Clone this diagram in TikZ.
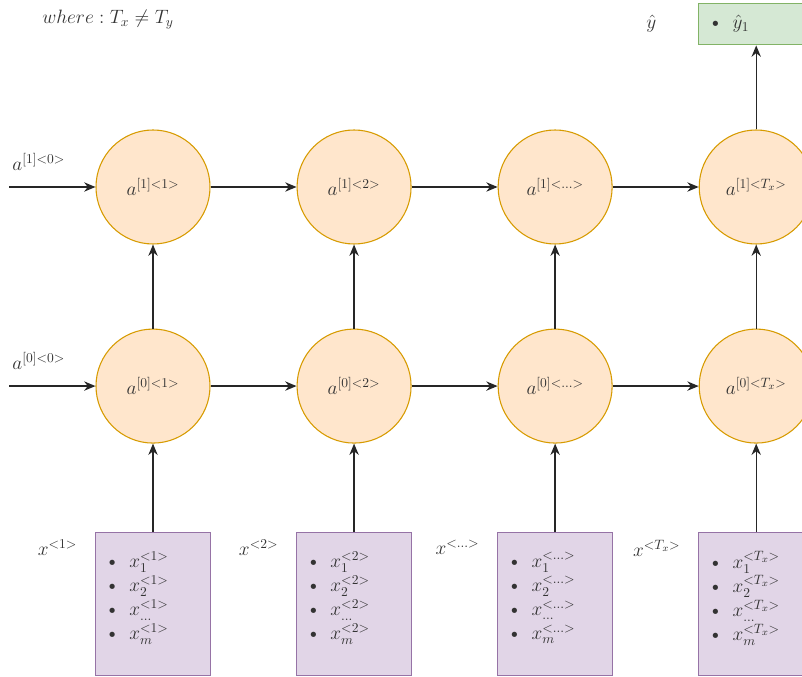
\RequirePackage{fix-cm}
\documentclass[tikz,border=0pt]{standalone}
\usepackage{amssymb}
\usepackage{amsmath}
\usepackage{tikz}
\usetikzlibrary{positioning,arrows.meta}
\usepackage{xcolor}

\definecolor{cellfill}{HTML}{FFE6CC}
\definecolor{celldraw}{HTML}{D79B00}
\definecolor{inpfill}{HTML}{E1D5E7}
\definecolor{inpdraw}{HTML}{9673A6}
\definecolor{outfill}{HTML}{D5E8D4}
\definecolor{outdraw}{HTML}{82B366}
\definecolor{txtgray}{HTML}{333333}

% list of the features of one input step
\newcommand{\featlist}[1]{%
\textbullet\enspace$x_1^{#1}$\\
\textbullet\enspace$x_2^{#1}$\\
\textbullet\enspace$x_{\ldots}^{#1}$\\
\textbullet\enspace$x_m^{#1}$\\[-6pt]\mbox{}}

\begin{document}
\begin{tikzpicture}[
% styles
font=\fontsize{14.5}{18}\selectfont, text=txtgray,
cellnode/.style={circle, draw=celldraw, fill=cellfill, line width=0.8pt, minimum size=85.5pt, inner sep=0pt},
inputbox/.style={rectangle, draw=inpdraw, fill=inpfill, line width=1.1pt, minimum width=86.25pt, minimum height=107.25pt, text width=72pt, inner xsep=7pt, align=left},
outbox/.style={rectangle, draw=outdraw, fill=outfill, line width=1.1pt, minimum width=86.25pt, minimum height=31pt, text width=72pt, inner xsep=7pt, align=left},
lbl/.style={inner sep=1pt},
conn/.style={line width=1pt, draw=black!85, -{Stealth[length=8.5pt,width=7pt]}},
node distance=63pt and 64.5pt,
]
\path[use as bounding box, fill=white] (-114.75pt,-367.5pt) rectangle (486.75pt,140.25pt);

% Nodes: layer 1
\node[cellnode] (a11)                  {$a^{[1]<1>}$};
\node[cellnode] (a12) [right=of a11]   {$a^{[1]<2>}$};
\node[cellnode] (a13) [right=of a12]   {$a^{[1]<\ldots>}$};
\node[cellnode] (a1T) [right=of a13]   {$a^{[1]<T_x>}$};
% Nodes: layer 0
\node[cellnode] (a01) [below=of a11]   {$a^{[0]<1>}$};
\node[cellnode] (a02) [right=of a01]   {$a^{[0]<2>}$};
\node[cellnode] (a03) [right=of a02]   {$a^{[0]<\ldots>}$};
\node[cellnode] (a0T) [right=of a03]   {$a^{[0]<T_x>}$};
% Nodes: inputs
\node[inputbox] (x1) [below=66pt of a01] {\featlist{<1>}};
\node[inputbox] (x2) [below=66pt of a02] {\featlist{<2>}};
\node[inputbox] (x3) [below=66pt of a03] {\featlist{<\ldots>}};
\node[inputbox] (xT) [below=66pt of a0T] {\featlist{<T_x>}};
% Node: output
\node[outbox] (gy) [above=63pt of a1T] {\textbullet\enspace$\hat{y}_1$};

% Labels
\node[lbl] (note) at (-33.75pt,125.25pt) {$where : T_x \neq T_y$};
\node[lbl] (lgy) [left=30pt of gy] {$\hat{y}$};
\node[lbl, anchor=north east] (lx1) at ([xshift=-12pt,yshift=-5pt]x1.north west) {$x^{<1>}$};
\node[lbl, anchor=north east] (lx2) at ([xshift=-12pt,yshift=-5pt]x2.north west) {$x^{<2>}$};
\node[lbl, anchor=north east] (lx3) at ([xshift=-12pt,yshift=-5pt]x3.north west) {$x^{<\ldots>}$};
\node[lbl, anchor=north east] (lxT) at ([xshift=-12pt,yshift=-5pt]xT.north west) {$x^{<T_x>}$};

% free ends of the initial states
\coordinate[left=64.5pt of a11.west] (in1);
\coordinate[left=64.5pt of a01.west] (in0);
\node[lbl, anchor=south west] (la1) at ([xshift=1pt,yshift=11pt]in1) {$a^{[1]<0>}$};
\node[lbl, anchor=south west] (la0) at ([xshift=1pt,yshift=11pt]in0) {$a^{[0]<0>}$};

% Lines
\draw[conn] (in1) -- (a11.west);
\draw[conn] (a11.east) -- (a12.west);
\draw[conn] (a12.east) -- (a13.west);
\draw[conn] (a13.east) -- (a1T.west);
\draw[conn] (in0) -- (a01.west);
\draw[conn] (a01.east) -- (a02.west);
\draw[conn] (a02.east) -- (a03.west);
\draw[conn] (a03.east) -- (a0T.west);
\draw[conn] (x1.north) -- (a01.south);
\draw[conn] (x2.north) -- (a02.south);
\draw[conn] (x3.north) -- (a03.south);
\draw[conn] (xT.north) -- (a0T.south);
\draw[conn] (a01.north) -- (a11.south);
\draw[conn] (a02.north) -- (a12.south);
\draw[conn] (a03.north) -- (a13.south);
\draw[conn] (a0T.north) -- (a1T.south);
\draw[conn] (a1T.north) -- (gy.south);

\end{tikzpicture}
\end{document}
